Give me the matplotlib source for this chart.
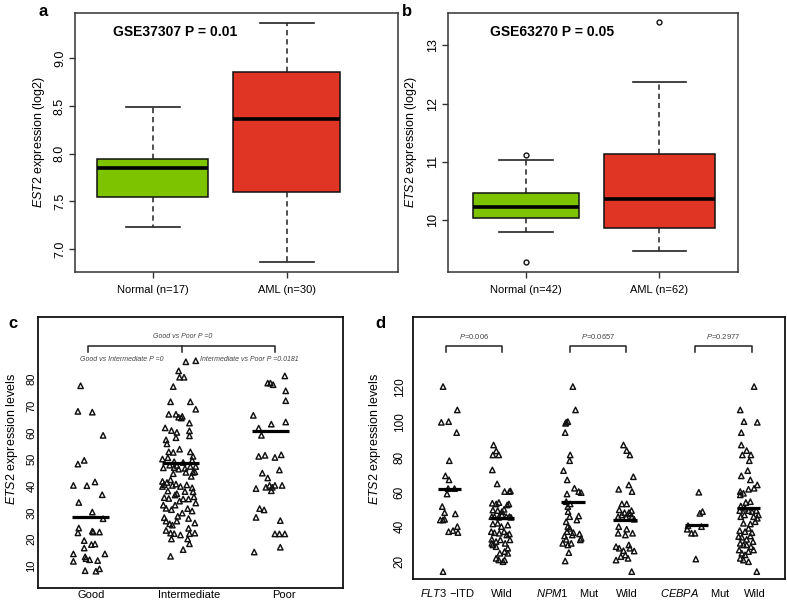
import matplotlib.pyplot as plt
import numpy as np

plt.rcParams['font.family'] = ['Liberation Sans', 'DejaVu Sans']
plt.rcParams['mathtext.fontset'] = 'custom'
plt.rcParams['mathtext.rm'] = 'Liberation Sans'
plt.rcParams['mathtext.it'] = 'Liberation Sans:italic'
plt.rcParams['mathtext.bf'] = 'Liberation Sans:bold'

########## a : GSE37307 boxplot ##########
a_groups = ["Normal (n=17)", "AML (n=30)"]
a_whislo = [7.23, 6.86]
a_q1 = [7.55, 7.60]
a_med = [7.85, 8.36]
a_q3 = [7.94, 8.86]
a_whishi = [8.49, 9.37]
a_fliers = [[], []]

########## b : GSE63270 boxplot ##########
b_groups = ["Normal (n=42)", "AML (n=62)"]
b_whislo = [9.80, 9.47]
b_q1 = [10.045, 9.87]
b_med = [10.22, 10.36]
b_q3 = [10.46, 11.13]
b_whishi = [11.03, 12.36]
b_fliers = [[11.12, 9.29], [13.39]]

########## c : cytogenetic risk ##########
c_groups = ["Good", "Intermediate", "Poor"]
good_dx = [-0.11, -0.14, 0.02, 0.14, -0.14, -0.07, -0.19, -0.04, 0.05, 0.13, -0.13, 0.02, 0.14, -0.13, -0.14, 0.02,
           0.03, 0.10, -0.07, 0.01, 0.05, -0.07, -0.19, -0.19, -0.06, -0.05, -0.01, 0.16, 0.08, -0.06, 0.06, 0.10]
good_y = [77.5, 67.9, 67.6, 58.9, 48.1, 49.5, 40.1, 40.0, 41.4, 36.6, 33.7, 30.1, 27.6, 24.1, 22.3, 22.9,
          22.6, 22.6, 19.4, 17.9, 18.1, 16.6, 14.4, 11.6, 13.3, 12.6, 12.2, 14.4, 11.9, 8.1, 7.9, 8.8]
inter_dx = [0.06, 0.17, -0.02, -0.01, 0.04, -0.08, -0.11, 0.11, 0.17, -0.13, -0.05, -0.02, 0.02, 0.01, -0.17, -0.10,
            -0.04, -0.05, 0.10, 0.10, 0.10, -0.16, -0.15, -0.13, -0.08, -0.01, 0.11, 0.14, -0.20, -0.14, -0.07, 0.03,
            0.13, -0.19, -0.12, -0.07, -0.04, -0.02, 0.05, 0.06, 0.11, 0.14, 0.17, 0.16, -0.08, 0.12, -0.20, -0.18,
            -0.20, -0.15, -0.11, -0.09, -0.05, 0.0, 0.07, 0.13, -0.14, 0.05, -0.18, -0.13, -0.06, -0.04, -0.01, 0.03,
            0.09, 0.14, 0.15, 0.17, -0.19, -0.16, -0.10, -0.06, 0.02, 0.08, 0.13, -0.03, -0.18, -0.16, -0.12, -0.09,
            -0.04, 0.09, 0.16, -0.16, -0.11, -0.07, 0.09, 0.10, 0.16, -0.10, 0.0, 0.08, 0.10, -0.11, 0.03]
inter_y = [86.5, 86.9, 83.1, 80.7, 80.7, 77.2, 71.5, 71.5, 68.7, 66.8, 66.8, 65.7, 66.0, 65.4, 61.7, 60.7,
           60.0, 58.0, 60.6, 58.7, 63.5, 57.2, 55.7, 52.7, 52.5, 53.7, 52.7, 51.0, 50.0, 50.5, 49.0, 48.7,
           49.5, 46.7, 47.7, 46.8, 47.6, 46.2, 46.5, 45.0, 47.2, 45.0, 47.2, 45.2, 44.5, 43.5, 41.6, 40.4,
           39.7, 41.2, 42.2, 40.1, 40.6, 39.7, 40.3, 39.2, 38.0, 37.8, 35.5, 35.2, 36.5, 37.0, 34.2, 35.0,
           35.0, 37.7, 35.8, 33.5, 32.7, 31.5, 31.0, 32.7, 29.7, 31.4, 30.5, 28.5, 28.0, 26.7, 25.7, 25.2,
           26.7, 27.7, 26.0, 23.2, 22.2, 22.0, 24.0, 22.0, 22.2, 20.0, 21.5, 20.0, 18.2, 13.5, 16.0]
poor_dx = [0.16, -0.03, 0.0, 0.03, 0.17, 0.17, -0.19, 0.01, 0.17, -0.13, -0.10, -0.13, -0.06, 0.05, 0.12, -0.09,
           -0.03, 0.10, -0.16, -0.05, -0.01, 0.02, 0.05, 0.13, 0.01, -0.12, -0.07, -0.16, 0.11, 0.05, 0.10, 0.16,
           0.11, -0.18]
poor_y = [81.2, 78.5, 78.5, 77.9, 75.6, 71.9, 66.4, 63.1, 63.9, 61.6, 58.9, 51.0, 51.4, 50.6, 51.6, 44.7,
          42.9, 45.9, 38.9, 39.4, 40.1, 39.4, 40.1, 40.1, 38.1, 31.4, 30.9, 28.1, 26.9, 21.9, 21.9, 21.9,
          16.9, 15.1]
c_medians = [28.4, 48.5, 60.6]
c_label_pos = [1.013, 2.098, 3.15]
c_bracket = [0.976, 2.02, 3.05]

########## d : mutation status ##########
d_labels = [r"$\it{FLT3}$ $-$ITD", "Wild", r"$\it{NPM1}$    Mut", "Wild", r"$\it{CEBPA}$    Mut", "Wild"]
d_label_pos = [0.95, 1.976, 3.22, 4.32, 5.60, 6.73]
d_pos = [1.0, 1.98, 3.31, 4.29, 5.63, 6.60]
d_medians = [61.5, 45.0, 54.2, 44.0, 41.2, 50.6]
d_pvals = ["0.006", "0.0657", "0.2977"]
d_bracket = [(0.925, 1.98), (3.26, 4.31), (5.60, 6.67)]

itd_dx = [-0.125, 0.143, -0.157, -0.02, 0.13, -0.007, -0.08, -0.013, -0.03, 0.09, -0.05, -0.14, -0.095, 0.105,
          -0.176, -0.126, -0.095, -0.02, 0.062, 0.143, 0.155, -0.125]
itd_y = [120.4, 107.0, 99.9, 100.3, 94.0, 77.9, 69.2, 66.9, 61.9, 61.9, 58.8, 51.6, 48.1, 47.4,
         43.9, 43.9, 44.3, 37.2, 37.8, 40.1, 36.7, 14.3]
flt_wild_dx = [-0.157, -0.107, -0.17, -0.06, -0.18, -0.09, 0.05, 0.14, 0.16, -0.18, -0.107, -0.057, 0.10, 0.13,
               -0.17, -0.08, 0.0, 0.04, -0.19, -0.14, -0.06, 0.0, 0.08, 0.14, 0.17, -0.17, -0.08, -0.01, 0.11,
               -0.20, -0.14, -0.05, 0.04, 0.09, 0.14, -0.19, -0.11, -0.03, 0.06, 0.15, -0.19, -0.17, 0.11, -0.11,
               -0.04, 0.05, 0.11, -0.11, -0.06, 0.02, 0.05]
flt_wild_y = [86.9, 83.5, 81.2, 81.2, 72.6, 64.6, 60.2, 60.2, 60.5, 53.5, 53.1, 53.9, 52.5, 53.1,
              49.6, 49.3, 48.7, 50.0, 45.8, 45.8, 45.4, 46.8, 45.8, 45.8, 45.4, 41.6, 42.0, 40.1, 41.0,
              37.2, 36.6, 36.3, 37.2, 35.3, 35.9, 32.8, 31.5, 32.5, 30.5, 32.5, 30.5, 29.6, 27.7, 28.6,
              24.8, 25.8, 24.8, 21.9, 21.0, 20.0, 21.0]
npm_mut_dx = [0.0, 0.05, -0.125, -0.094, -0.137, -0.144, -0.05, -0.06, -0.175, -0.106, -0.11, 0.03, 0.11, 0.156,
              -0.125, -0.094, -0.05, -0.09, -0.06, 0.11, 0.075, -0.125, -0.094, -0.06, -0.11, 0.01, -0.156,
              -0.125, -0.01, 0.125, 0.156, -0.19, -0.094, -0.03, 0.14, -0.075, -0.144]
npm_mut_y = [120.4, 107.0, 99.9, 100.3, 99.3, 94.0, 81.2, 77.9, 72.2, 66.9, 58.8, 62.1, 60.2, 59.6,
             54.4, 51.6, 53.1, 48.7, 45.8, 46.2, 43.9, 42.9, 40.1, 39.1, 37.2, 36.6, 34.7,
             32.8, 35.3, 35.9, 33.4, 30.5, 29.6, 30.5, 32.5, 25.2, 20.4]
npm_wild_dx = [-0.03, 0.03, 0.09, 0.155, -0.12, 0.07, 0.13, -0.06, 0.03, -0.11, -0.01, 0.07, 0.12, -0.13, -0.06,
               0.02, 0.13, 0.17, 0.09, -0.12, 0.03, 0.14, -0.13, 0.005, -0.17, -0.11, -0.03, 0.07, 0.17, 0.09,
               -0.17, -0.08, 0.005, 0.055, 0.124]
npm_wild_y = [86.9, 83.7, 81.2, 68.7, 61.5, 64.0, 60.2, 53.1, 53.1, 49.7, 48.1, 48.1, 49.3, 45.8, 46.8,
              45.4, 45.8, 44.3, 47.4, 40.1, 38.6, 36.3, 36.3, 35.3, 28.6, 27.7, 26.3, 29.6, 26.1, 27.7,
              20.9, 22.9, 23.8, 21.9, 14.3]
ceb_mut_dx = [0.043, 0.062, 0.112, -0.175, -0.094, -0.03, 0.093, -0.16, -0.013]
ceb_mut_y = [59.8, 47.7, 48.7, 38.6, 36.3, 36.3, 40.1, 40.6, 21.5]
ceb_wild_dx = [0.11, -0.15, -0.08, 0.17, -0.13, -0.13, -0.03, -0.11, 0.05, 0.02, -0.01, -0.13, 0.04, 0.17, 0.11,
               0.005, -0.15, -0.09, -0.15, -0.045, 0.04, -0.14, -0.16, -0.06, 0.005, 0.07, 0.15, 0.19, -0.14,
               -0.07, 0.10, 0.17, 0.13, -0.09, 0.04, -0.16, -0.06, 0.005, 0.07, -0.18, -0.12, -0.03, 0.04, 0.09,
               -0.15, -0.09, -0.03, 0.05, 0.10, -0.17, -0.12, -0.06, 0.005, -0.15, -0.09, 0.005, 0.16]
ceb_wild_y = [120.4, 107.0, 100.3, 99.9, 94.0, 86.9, 83.7, 81.2, 81.2, 77.9, 72.2, 69.2, 66.9, 64.0, 62.1,
              61.5, 60.2, 59.2, 58.3, 53.9, 54.4, 51.9, 49.3, 50.6, 49.3, 48.7, 49.3, 46.8, 45.8,
              46.8, 45.8, 44.9, 42.9, 42.0, 41.6, 37.8, 37.2, 39.1, 36.6, 34.4, 34.0, 32.8, 34.7, 31.5,
              30.5, 29.6, 29.6, 28.6, 26.7, 26.7, 24.8, 23.9, 25.8, 21.9, 20.9, 20.0, 14.3]

box_colors = ['#7dc300', '#e03424']


def box_panel(ax, labels, lo, q1, med, q3, hi, fliers, widths):
    stats = []
    for i in range(len(labels)):
        stats.append(dict(label=labels[i], whislo=lo[i], q1=q1[i], med=med[i], q3=q3[i],
                          whishi=hi[i], fliers=fliers[i]))
    bp = ax.bxp(stats, positions=[1, 2], widths=widths, patch_artist=True, capwidths=0.4,
                boxprops=dict(lw=1.1, edgecolor='#111'),
                medianprops=dict(color='k', lw=2.6, solid_capstyle='butt'),
                whiskerprops=dict(ls=(0, (3.5, 2.5)), lw=1.1, color='#222'),
                capprops=dict(lw=1.2, color='#222'),
                flierprops=dict(marker='o', mfc='none', mec='#111', ms=3.5, mew=1.0))
    for patch, col in zip(bp['boxes'], box_colors):
        patch.set_facecolor(col)
    for s in ax.spines.values():
        s.set_color('#333')
        s.set_linewidth(1.1)
    ax.tick_params(axis='both', length=4.5, width=1.0, color='#333', pad=2)
    ax.tick_params(axis='x', pad=5, labelsize=8)
    ax.tick_params(axis='y', labelsize=9)


fig = plt.figure(figsize=(7.87, 6.02), dpi=100)

# a
ax_a = fig.add_axes([0.0953, 0.5482, 0.4104, 0.4302])
box_panel(ax_a, a_groups, a_whislo, a_q1, a_med, a_q3, a_whishi, a_fliers, [0.83, 0.80])
ax_a.set_xlim(0.42, 2.83)
ax_a.set_ylim(6.76, 9.475)
ax_a.set_yticks([7.0, 7.5, 8.0, 8.5, 9.0])
ax_a.set_yticklabels(["7.0", "7.5", "8.0", "8.5", "9.0"], rotation=90, va='center')
ax_a.text(0.311, 0.927, "GSE37307 P = 0.01", transform=ax_a.transAxes, ha='center', va='center',
          fontsize=10, fontweight='bold')
ax_a.text(-0.112, 0.5, r"$\it{EST2}$ expression (log2)", transform=ax_a.transAxes, rotation=90,
          ha='center', va='center', fontsize=9)

# b
ax_b = fig.add_axes([0.5696, 0.5482, 0.3678, 0.4302])
box_panel(ax_b, b_groups, b_whislo, b_q1, b_med, b_q3, b_whishi, b_fliers, [0.80, 0.83])
ax_b.set_xlim(0.417, 2.588)
ax_b.set_ylim(9.115, 13.55)
ax_b.set_yticks([10, 11, 12, 13])
ax_b.set_yticklabels(["10", "11", "12", "13"], rotation=90, va='center')
ax_b.text(0.36, 0.927, "GSE63270 P = 0.05", transform=ax_b.transAxes, ha='center', va='center',
          fontsize=10, fontweight='bold')
ax_b.text(-0.128, 0.5, r"$\it{ETS2}$ expression (log2)", transform=ax_b.transAxes, rotation=90,
          ha='center', va='center', fontsize=9)


def strip_style(ax):
    for s in ax.spines.values():
        s.set_color('#111')
        s.set_linewidth(1.3)
    ax.tick_params(axis='both', length=0, labelsize=8)
    plt.setp(ax.get_yticklabels(), rotation=90, va='center')


tri = dict(marker='^', facecolors='none', edgecolors='#111', s=15, linewidths=1.05)

# c
ax_c = fig.add_axes([0.0479, 0.0228, 0.3883, 0.4501])
c_dx = [good_dx, inter_dx, poor_dx]
c_y = [good_y, inter_y, poor_y]
for i in range(3):
    ax_c.scatter(i + 1 + np.array(c_dx[i]), c_y[i], **tri)
    ax_c.hlines(c_medians[i], i + 1 - 0.21, i + 1 + 0.21, color='k', lw=2.3)
ax_c.set_xlim(0.413, 3.81)
ax_c.set_ylim(1.5, 103.2)
ax_c.set_xticks(c_label_pos)
ax_c.set_xticklabels(c_groups)
ax_c.set_yticks(np.arange(10, 81, 10))
strip_style(ax_c)
ax_c.tick_params(axis='x', pad=1.5)
ax_c.tick_params(axis='y', labelsize=8, pad=1)
ax_c.plot([c_bracket[0], c_bracket[0], c_bracket[2], c_bracket[2]], [90.0, 92.6, 92.6, 90.0],
          color='#222', lw=1.1)
ax_c.plot([c_bracket[1], c_bracket[1]], [92.6, 90.0], color='#222', lw=1.1)
ax_c.text(2.02, 96.0, "Good vs Poor P =0", ha='center', va='center', fontsize=5, style='italic', color='#444')
ax_c.text(1.35, 87.2, "Good vs Intermediate P =0", ha='center', va='center', fontsize=5, style='italic',
          color='#444')
ax_c.text(2.77, 87.2, "Intermediate vs Poor P =0.0181", ha='center', va='center', fontsize=5, style='italic',
          color='#444')
ax_c.text(-0.083, 0.553, r"$\it{ETS2}$ expression levels", transform=ax_c.transAxes, rotation=90,
          ha='center', va='center', fontsize=9)

# d
ax_d = fig.add_axes([0.5244, 0.0377, 0.4731, 0.4352])
d_dx = [itd_dx, flt_wild_dx, npm_mut_dx, npm_wild_dx, ceb_mut_dx, ceb_wild_dx]
d_y = [itd_y, flt_wild_y, npm_mut_y, npm_wild_y, ceb_mut_y, ceb_wild_y]
for i in range(6):
    ax_d.scatter(d_pos[i] + np.array(d_dx[i]), d_y[i], **tri)
    ax_d.hlines(d_medians[i], d_pos[i] - 0.22, d_pos[i] + 0.22, color='k', lw=2.3)
for (x0, x1), p in zip(d_bracket, d_pvals):
    ax_d.plot([x0, x0, x1, x1], [140.1, 143.7, 143.7, 140.1], color='#222', lw=1.1)
    ax_d.text((x0 + x1) / 2, 149.0, r"$\it{P}$=" + p, ha='center', va='center', fontsize=5.5, color='#444')
ax_d.set_xlim(0.306, 7.29)
ax_d.set_ylim(9.9, 160.1)
ax_d.set_xticks(d_label_pos)
ax_d.set_xticklabels(d_labels, va='baseline')
ax_d.set_yticks(np.arange(20, 121, 20))
strip_style(ax_d)
ax_d.tick_params(axis='x', pad=13)
ax_d.tick_params(axis='y', pad=5, labelsize=8.5)
ax_d.text(-0.101, 0.535, r"$\it{ETS2}$ expression levels", transform=ax_d.transAxes, rotation=90,
          ha='center', va='center', fontsize=9)

# panel letters
fig.text(43 / 787, 1 - 12 / 602, "a", ha='center', va='center', fontsize=12, fontweight='bold')
fig.text(407 / 787, 1 - 12 / 602, "b", ha='center', va='center', fontsize=12, fontweight='bold')
fig.text(13 / 787, 1 - 323 / 602, "c", ha='center', va='center', fontsize=12, fontweight='bold')
fig.text(380 / 787, 1 - 323 / 602, "d", ha='center', va='center', fontsize=12, fontweight='bold')

fig.savefig('out.png', dpi=100)
